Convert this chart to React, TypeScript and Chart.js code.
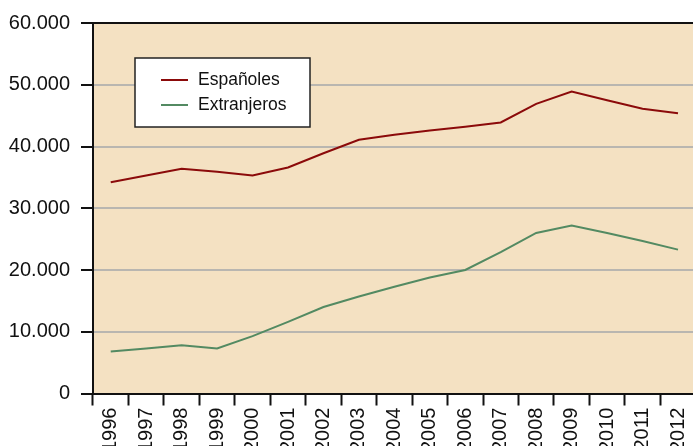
import React, { useEffect, useRef } from "react";
import { Chart, registerables } from "chart.js";

Chart.register(...registerables);

const years = ["1996","1997","1998","1999","2000","2001","2002","2003","2004","2005","2006","2007","2008","2009","2010","2011","2012"];
const espanoles = [34200, 35300, 36400, 35900, 35300, 36600, 38900, 41100, 41900, 42600, 43200, 43900, 46900, 48900, 47500, 46100, 45400];
const extranjeros = [6800, 7300, 7800, 7300, 9300, 11600, 14000, 15700, 17300, 18800, 20000, 22900, 26000, 27200, 26000, 24700, 23300];
const yTicks = [0, 10000, 20000, 30000, 40000, 50000, 60000];

const FONT = "'Liberation Sans', Arial, sans-serif";

function fmt(v: number): string {
  const s = Math.round(v).toString();
  return s.replace(/\B(?=(\d{3})+(?!\d))/g, ".");
}

const bgPlugin = {
  id: "bgPlugin",
  beforeDraw(chart: any) {
    const { ctx, chartArea } = chart;
    ctx.save();
    ctx.fillStyle = "#F4E1C2";
    ctx.fillRect(chartArea.left, chartArea.top, chartArea.right - chartArea.left, chartArea.bottom - chartArea.top);
    ctx.restore();
  },
  afterDraw(chart: any) {
    const { ctx, chartArea } = chart;
    ctx.save();
    ctx.strokeStyle = "#111";
    ctx.lineWidth = 2;
    ctx.beginPath();
    ctx.moveTo(chartArea.left, chartArea.top);
    ctx.lineTo(chartArea.right, chartArea.top);
    ctx.stroke();
    // legend box
    const x = chartArea.left + 42;
    const y = chartArea.top + 35;
    const w = 175;
    const h = 69;
    ctx.fillStyle = "#fff";
    ctx.fillRect(x, y, w, h);
    ctx.strokeStyle = "#222";
    ctx.lineWidth = 1.5;
    ctx.strokeRect(x, y, w, h);
    const ds = chart.data.datasets;
    ds.forEach((d: any, i: number) => {
      const ly = y + 22 + i * 25;
      ctx.strokeStyle = d.borderColor;
      ctx.lineWidth = 2;
      ctx.beginPath();
      ctx.moveTo(x + 26, ly);
      ctx.lineTo(x + 53, ly);
      ctx.stroke();
      ctx.fillStyle = "#111";
      ctx.font = `17.5px ${FONT}`;
      ctx.textBaseline = "middle";
      ctx.textAlign = "left";
      ctx.fillText(d.label, x + 63, ly);
    });
    ctx.restore();
  },
};

export default function App() {
  const ref = useRef<HTMLCanvasElement | null>(null);
  useEffect(() => {
    if (!ref.current) return;
    const chart = new Chart(ref.current, {
      type: "line",
      data: {
        labels: years,
        datasets: [
          {
            label: "Españoles",
            data: espanoles,
            borderColor: "#8B0A0A",
            borderWidth: 2,
            pointRadius: 0,
            tension: 0,
            fill: false,
          },
          {
            label: "Extranjeros",
            data: extranjeros,
            borderColor: "#538A62",
            borderWidth: 2,
            pointRadius: 0,
            tension: 0,
            fill: false,
          },
        ],
      },
      options: {
        responsive: false,
        animation: false,
        devicePixelRatio: 1,
        layout: { padding: { top: 22, left: 9, right: 0, bottom: 0 } },
        plugins: {
          legend: { display: false },
          tooltip: { enabled: false },
        },
        scales: {
          x: {
            type: "category",
            offset: true,
            grid: {
              offset: true,
              drawOnChartArea: false,
              drawTicks: true,
              tickLength: 12,
              tickColor: "#111",
              tickWidth: 2,
            },
            border: { display: true, color: "#111", width: 2 },
            ticks: {
              autoSkip: false,
              maxRotation: 90,
              minRotation: 90,
              padding: 2,
              color: "#111",
              font: { family: FONT, size: 20 },
            },
          },
          y: {
            min: 0,
            max: 60000,
            afterBuildTicks(axis: any) {
              axis.ticks = yTicks.map((v) => ({ value: v }));
            },
            afterFit(axis: any) {
              axis.width = 84;
            },
            grid: {
              color: "#B9B6B0",
              lineWidth: 2,
              drawTicks: true,
              tickLength: 12,
              tickColor: "#111",
              tickWidth: 2,
            },
            border: { display: true, color: "#111", width: 2 },
            ticks: {
              padding: 11,
              color: "#111",
              font: { family: FONT, size: 20 },
              callback: (v: any) => fmt(Number(v)),
            },
          },
        },
      },
      plugins: [bgPlugin],
    });
    return () => chart.destroy();
  }, []);
  return (
    <canvas
      ref={ref}
      width={704}
      height={454}
      style={{ position: "absolute", left: 0, top: 0, width: 704, height: 454 }}
    />
  );
}
